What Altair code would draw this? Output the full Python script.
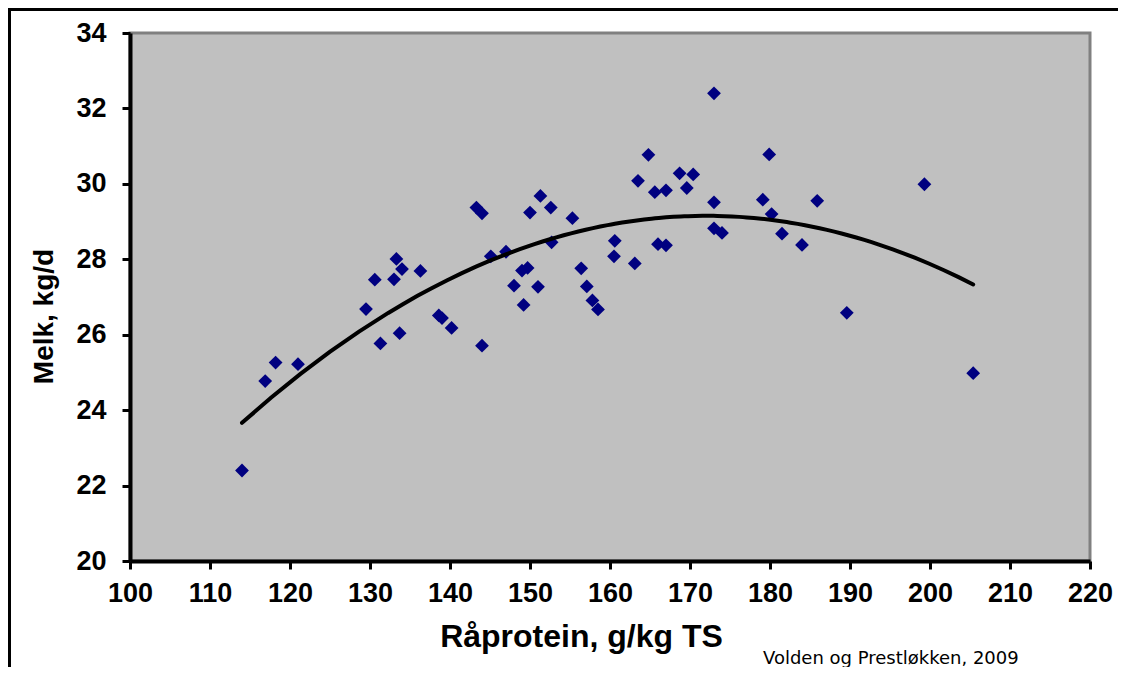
import altair as alt
import pandas as pd

# Data
protein = [114.0, 116.9, 118.2, 121.0, 129.5, 130.6, 131.3, 133.0, 133.3, 134.0,
           136.3, 133.7, 138.6, 139.0, 140.2, 143.3, 144.0, 144.0, 145.1, 147.0,
           148.0, 149.0, 149.7, 149.2, 150.0, 151.0, 151.3, 152.6, 152.7, 155.3,
           156.4, 157.1, 157.8, 158.5, 160.6, 160.5, 163.1, 163.5, 164.8, 165.6,
           166.0, 167.0, 167.0, 168.7, 170.4, 169.6, 173.0, 173.0, 173.0, 174.0,
           179.1, 179.9, 180.2, 181.5, 184.0, 185.9, 189.6, 199.3, 205.4]
melk = [22.40, 24.77, 25.26, 25.22, 26.68, 27.46, 25.77, 27.47, 28.01, 27.74,
        27.69, 26.04, 26.51, 26.44, 26.18, 29.37, 29.22, 25.71, 28.08, 28.20,
        27.30, 27.70, 27.77, 26.79, 29.24, 27.27, 29.68, 29.37, 28.45, 29.09,
        27.76, 27.28, 26.91, 26.67, 28.49, 28.08, 27.89, 30.08, 30.77, 29.78,
        28.40, 29.83, 28.37, 30.28, 30.25, 29.89, 32.40, 29.51, 28.82, 28.70,
        29.58, 30.78, 29.20, 28.68, 28.38, 29.55, 26.58, 29.99, 24.98]

x_ticks = [100, 110, 120, 130, 140, 150, 160, 170, 180, 190, 200, 210, 220]
y_ticks = [20, 22, 24, 26, 28, 30, 32, 34]

x_title = "Råprotein, g/kg TS"
y_title = "Melk, kg/d"
source_note = "Volden og Prestløkken, 2009"

df = pd.DataFrame({"protein": protein, "melk": melk})

FONT = "Liberation Sans"

x_axis = alt.Axis(
    values=x_ticks, title=x_title, grid=False,
    domainColor="black", domainWidth=4,
    tickColor="black", tickWidth=3, tickSize=8,
    labelFont=FONT, labelFontSize=27, labelFontWeight="bold", labelColor="black",
    labelPadding=11, labelFlush=False,
    titleFont=FONT, titleFontSize=32, titleFontWeight="bold", titleColor="black",
    titleX=451, titleY=85, titleAlign="center", titleBaseline="alphabetic",
)
y_axis = alt.Axis(
    values=y_ticks, title=y_title, grid=False,
    domainColor="black", domainWidth=4,
    tickColor="black", tickWidth=3, tickSize=8,
    labelFont=FONT, labelFontSize=27, labelFontWeight="bold", labelColor="black",
    labelPadding=16, labelFlush=False,
    titleFont=FONT, titleFontSize=28, titleFontWeight="bold", titleColor="black",
    titleX=-78, titleY=283, titleAlign="center", titleBaseline="alphabetic",
    titleAngle=270,
)

xs = alt.Scale(domain=[100, 220], nice=False, zero=False)
ys = alt.Scale(domain=[20, 34], nice=False, zero=False)

base = alt.Chart(df)

points = base.mark_point(
    shape="diamond", filled=True, color="#000080", size=190, opacity=1
).encode(
    x=alt.X("protein:Q", scale=xs, axis=x_axis),
    y=alt.Y("melk:Q", scale=ys, axis=y_axis),
)

trend = base.transform_regression(
    "protein", "melk", method="poly", order=2
).mark_line(color="black", strokeWidth=4, strokeCap="round").encode(
    x=alt.X("protein:Q", scale=xs),
    y=alt.Y("melk:Q", scale=ys),
)

frame_df = pd.DataFrame({"k": [0]})
frame_left = alt.Chart(frame_df).mark_rule(color="black", strokeWidth=3).encode(
    x=alt.value(-120.5), y=alt.value(-23.5), y2=alt.value(700)
)
frame_top = alt.Chart(frame_df).mark_rule(color="black", strokeWidth=3).encode(
    x=alt.value(-122), x2=alt.value(1100), y=alt.value(-23.5)
)

note = alt.Chart(frame_df).mark_text(
    text=source_note, font="DejaVu Sans", fontSize=18, align="left",
    baseline="alphabetic", color="black"
).encode(x=alt.value(633), y=alt.value(631))

chart = alt.layer(points, trend, frame_left, frame_top, note).properties(
    width=960, height=528,
    autosize=alt.AutoSizeParams(type="none"),
    padding={"left": 122, "top": 25, "right": 28, "bottom": 106},
    background="white",
).configure_view(
    fill="#C0C0C0", stroke="#808080", strokeWidth=3
)

chart.save("out.html", embed_options={"renderer": "svg", "actions": False})
